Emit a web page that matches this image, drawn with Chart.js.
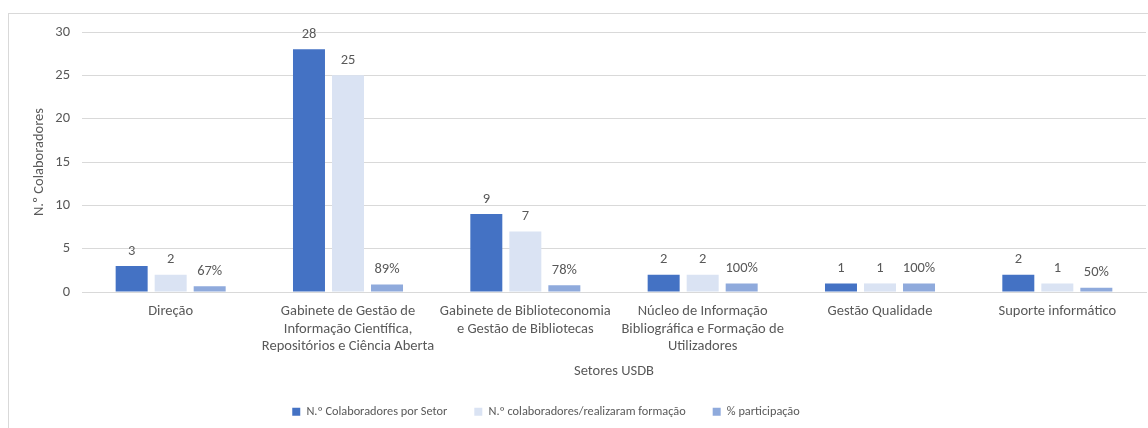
<!DOCTYPE html>
<html lang="pt">
<head>
  <meta charset="UTF-8" />
  <title>Colaboradores por setor - USDB</title>
  <script src="https://cdn.jsdelivr.net/npm/chart.js"></script>
  <style>
    html, body { margin: 0; padding: 0; background: #fff; }
    .wrap { position: relative; width: 1148px; height: 428px; overflow: hidden; }
    .frame {
      position: absolute; left: 8px; top: 13px; width: 1160px; height: 440px;
      border: 1px solid #d9d9d9; box-sizing: border-box;
    }
    canvas { position: absolute; left: 0; top: 0; }
  </style>
</head>
<body>
  <div class="wrap">
    <div class="frame"></div>
    <canvas id="setoresChart" width="1148" height="428"></canvas>
  </div>

  <script>
    const setores = [
      'Direção',
      ['Gabinete de Gestão de', 'Informação Científica,', 'Repositórios e Ciência Aberta'],
      ['Gabinete de Biblioteconomia', 'e Gestão de Bibliotecas'],
      ['Núcleo de Informação', 'Bibliográfica e Formação de', 'Utilizadores'],
      'Gestão Qualidade',
      'Suporte informático'
    ];
    const colaboradores = [3, 28, 9, 2, 1, 2];
    const comFormacao = [2, 25, 7, 2, 1, 1];
    const participacao = [0.67, 0.89, 0.78, 1.00, 1.00, 0.50];
    const yTicks = [0, 5, 10, 15, 20, 25, 30];

    const fontFamily = 'Carlito, Calibri, Lato, sans-serif';
    const textColor = '#595959';

    // value labels over each bar (percent series shown as %)
    const barLabels = {
      id: 'barLabels',
      afterDatasetsDraw(chart) {
        const ctx = chart.ctx;
        ctx.save();
        ctx.font = '14.5px ' + fontFamily;
        ctx.fillStyle = textColor;
        ctx.textAlign = 'center';
        ctx.textBaseline = 'middle';
        chart.data.datasets.forEach((ds, i) => {
          chart.getDatasetMeta(i).data.forEach((bar, j) => {
            const v = ds.data[j];
            const txt = ds.isPercent ? Math.round(v * 100) + '%' : String(v);
            ctx.fillText(txt, bar.x, bar.y - 15);
          });
        });
        ctx.restore();
      }
    };

    // legend sits a bit left of the canvas centre
    const legendShift = {
      id: 'legendShift',
      afterLayout(chart) {
        chart.legend.left -= 40;
        chart.legend.right -= 40;
      }
    };

    new Chart(document.getElementById('setoresChart'), {
      type: 'bar',
      data: {
        labels: setores,
        datasets: [
          { label: 'N.º Colaboradores por Setor', data: colaboradores, backgroundColor: '#4472C4' },
          { label: 'N.º colaboradores/realizaram formação', data: comFormacao, backgroundColor: '#DAE3F3' },
          { label: '% participação', data: participacao, backgroundColor: '#8FAADC', isPercent: true }
        ]
      },
      options: {
        responsive: false,
        animation: false,
        categoryPercentage: 0.66,
        barPercentage: 0.82,
        layout: { padding: { left: 26, right: 2, top: 32, bottom: 0 } },
        plugins: {
          legend: {
            position: 'bottom',
            labels: {
              font: { family: fontFamily, size: 12.3 },
              color: textColor,
              boxWidth: 8,
              boxHeight: 8,
              padding: 27
            }
          },
          tooltip: { enabled: false }
        },
        scales: {
          x: {
            grid: { display: false },
            border: { color: '#d9d9d9' },
            afterFit(scale) { scale.height -= 2; },
            ticks: {
              color: textColor,
              font: { family: fontFamily, size: 14.5, lineHeight: 1.2 },
              padding: 3,
              maxRotation: 0,
              autoSkip: false
            },
            title: {
              display: true,
              text: 'Setores USDB',
              color: textColor,
              font: { family: fontFamily, size: 14.5 },
              padding: { top: 6, bottom: -1 }
            }
          },
          y: {
            min: 0,
            max: 30,
            afterBuildTicks(scale) {
              scale.ticks = yTicks.map(v => ({ value: v }));
            },
            afterFit(scale) { scale.width = 56; },
            grid: { color: '#d9d9d9', drawTicks: false },
            border: { display: false },
            ticks: {
              color: textColor,
              font: { family: fontFamily, size: 14.5 },
              padding: 12
            },
            title: {
              display: true,
              text: 'N.º Colaboradores',
              color: textColor,
              font: { family: fontFamily, size: 14.5 },
              padding: { top: 5, bottom: 0 }
            }
          }
        }
      },
      plugins: [barLabels, legendShift]
    });
  </script>
</body>
</html>
